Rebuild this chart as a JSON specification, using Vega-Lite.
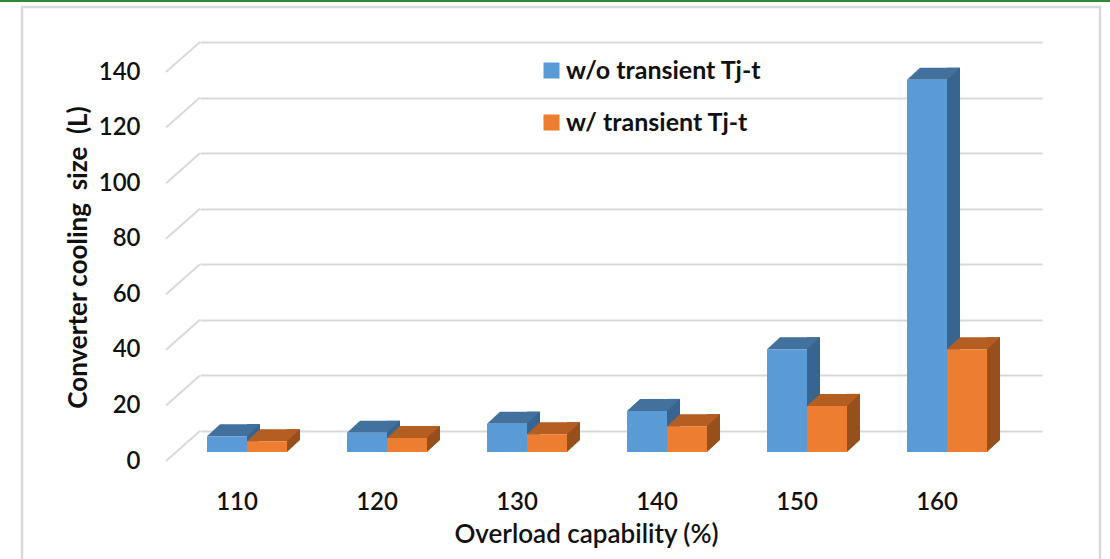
{
  "$schema": "https://vega.github.io/schema/vega-lite/v6.json",
  "width": 842,
  "height": 389,
  "autosize": {"type": "none"},
  "padding": {"left": 200, "top": 42, "right": 68, "bottom": 128},
  "background": "#ffffff",
  "config": {
    "view": {"stroke": null},
    "font": "Lato",
    "axisY": {
      "grid": true, "gridColor": "#d9d9d9", "gridWidth": 2, "domain": false, "ticks": false,
      "labelOffset": 30, "labelPadding": 60, "labelFont": "Lato", "labelFontSize": 24, "labelFontWeight": 600, "labelColor": "#111111",
      "tickCount": 7,
      "titleFont": "Lato", "titleFontSize": 26, "titleFontWeight": "bold", "titleColor": "#111111",
      "titleAngle": -90, "titleBaseline": "middle", "titleX": -122, "titleY": 215
    },
    "axisX": {
      "grid": false, "domain": false, "ticks": false,
      "labelOffset": -10, "labelPadding": 71, "labelBaseline": "middle", "labelAngle": 0,
      "labelFont": "Lato", "labelFontSize": 24, "labelFontWeight": 600, "labelColor": "#111111",
      "titleFont": "Lato", "titleFontSize": 26, "titleFontWeight": 600, "titleColor": "#111111",
      "titleX": 386, "titleY": 103, "titleBaseline": "middle"
    },
    "legend": {
      "orient": "none", "legendX": 339, "legendY": 16, "title": null,
      "symbolType": "square", "symbolSize": 256, "symbolStrokeWidth": 0,
      "labelFont": "Lato", "labelFontSize": 25, "labelFontWeight": "bold", "labelColor": "#111111",
      "labelLimit": 0, "labelOffset": 2, "rowPadding": 26
    }
  },
  "datasets": {
    "sizes": [
      {"cap": "110", "series": "w/o transient Tj-t", "size": 5.7},
      {"cap": "120", "series": "w/o transient Tj-t", "size": 6.9},
      {"cap": "130", "series": "w/o transient Tj-t", "size": 10.2},
      {"cap": "140", "series": "w/o transient Tj-t", "size": 14.8},
      {"cap": "150", "series": "w/o transient Tj-t", "size": 37},
      {"cap": "160", "series": "w/o transient Tj-t", "size": 134},
      {"cap": "110", "series": "w/ transient Tj-t", "size": 3.9},
      {"cap": "120", "series": "w/ transient Tj-t", "size": 5.0},
      {"cap": "130", "series": "w/ transient Tj-t", "size": 6.4},
      {"cap": "140", "series": "w/ transient Tj-t", "size": 9.3},
      {"cap": "150", "series": "w/ transient Tj-t", "size": 16.6},
      {"cap": "160", "series": "w/ transient Tj-t", "size": 37}
    ],
    "ticks": [
      {"t": 0}, {"t": 20}, {"t": 40}, {"t": 60}, {"t": 80}, {"t": 100}, {"t": 120}, {"t": 140}
    ]
  },
  "layer": [
    {
      "description": "outer frame of the figure",
      "data": {"values": [{}]},
      "mark": {"type": "rect", "fill": null, "stroke": "#d9d9d9", "strokeWidth": 2.5},
      "encoding": {
        "x": {"value": -178}, "x2": {"value": 900},
        "y": {"value": -35}, "y2": {"value": 540}
      }
    },
    {
      "description": "green page rule along the top edge",
      "data": {"values": [{}]},
      "mark": {"type": "rule", "color": "#2f8a36", "strokeWidth": 2},
      "encoding": {
        "x": {"value": -200}, "x2": {"value": 910},
        "y": {"value": -41}
      }
    },
    {
      "description": "floor-to-wall diagonals of the gridlines",
      "data": {"name": "ticks"},
      "mark": {"type": "rule", "color": "#d9d9d9", "strokeWidth": 2, "yOffset": 30},
      "encoding": {
        "x": {"value": -34}, "x2": {"value": 0},
        "y": {"field": "t", "type": "quantitative", "title": "Converter cooling\u00a0 size\u00a0 (L)", "scale": {"domain": [0, 140]}},
        "y2": {"field": "t"}
      }
    },
    {
      "description": "blue: side face",
      "data": {"name": "sizes"},
      "transform": [{"filter": "datum.series === 'w/o transient Tj-t'"}],
      "mark": {"type": "bar", "color": "#386490", "width": 13, "xOffset": 6.5, "yOffset": 9, "y2Offset": 9},
      "encoding": {
        "x": {"field": "cap", "type": "nominal", "title": "Overload capability (%)", "scale": {"paddingInner": 0.4286, "paddingOuter": 0.2214, "align": 0.113}},
        "y": {"field": "size", "type": "quantitative", "title": "Converter cooling\u00a0 size\u00a0 (L)"}
      }
    },
    {
      "description": "blue: lower corner of side face",
      "data": {"name": "sizes"},
      "transform": [{"filter": "datum.series === 'w/o transient Tj-t'"}],
      "mark": {"type": "point", "shape": "M0,0L0,-12L13,-12Z", "size": 4, "filled": true, "opacity": 1, "strokeWidth": 0, "color": "#386490", "xOffset": 0, "yOffset": 21},
      "encoding": {
        "x": {"field": "cap", "type": "nominal", "title": "Overload capability (%)"},
        "y": {"datum": 0, "title": "Converter cooling\u00a0 size\u00a0 (L)"}
      }
    },
    {
      "description": "blue: top face",
      "data": {"name": "sizes"},
      "transform": [{"filter": "datum.series === 'w/o transient Tj-t'"}],
      "mark": {"type": "point", "shape": "M0,0L40,0L53,-12L13,-12Z", "size": 4, "filled": true, "opacity": 1, "strokeWidth": 0, "color": "#41719c", "xOffset": -40, "yOffset": 21},
      "encoding": {
        "x": {"field": "cap", "type": "nominal", "title": "Overload capability (%)"},
        "y": {"field": "size", "type": "quantitative", "title": "Converter cooling\u00a0 size\u00a0 (L)"}
      }
    },
    {
      "description": "blue: front face",
      "data": {"name": "sizes"},
      "transform": [{"filter": "datum.series === 'w/o transient Tj-t'"}],
      "mark": {"type": "bar", "width": {"band": 0.5}, "xOffset": -20, "yOffset": 21, "y2Offset": 21},
      "encoding": {
        "x": {"field": "cap", "type": "nominal", "title": "Overload capability (%)"},
        "y": {"field": "size", "type": "quantitative", "title": "Converter cooling\u00a0 size\u00a0 (L)"},
        "color": {"field": "series", "type": "nominal", "scale": {"domain": ["w/o transient Tj-t", "w/ transient Tj-t"], "range": ["#5b9bd5", "#ed7d31"]}}
      }
    },
    {
      "description": "orange: side face",
      "data": {"name": "sizes"},
      "transform": [{"filter": "datum.series === 'w/ transient Tj-t'"}],
      "mark": {"type": "bar", "color": "#97501c", "width": 13, "xOffset": 46.5, "yOffset": 9, "y2Offset": 9},
      "encoding": {
        "x": {"field": "cap", "type": "nominal", "title": "Overload capability (%)"},
        "y": {"field": "size", "type": "quantitative", "title": "Converter cooling\u00a0 size\u00a0 (L)"}
      }
    },
    {
      "description": "orange: lower corner of side face",
      "data": {"name": "sizes"},
      "transform": [{"filter": "datum.series === 'w/ transient Tj-t'"}],
      "mark": {"type": "point", "shape": "M0,0L0,-12L13,-12Z", "size": 4, "filled": true, "opacity": 1, "strokeWidth": 0, "color": "#97501c", "xOffset": 40, "yOffset": 21},
      "encoding": {
        "x": {"field": "cap", "type": "nominal", "title": "Overload capability (%)"},
        "y": {"datum": 0, "title": "Converter cooling\u00a0 size\u00a0 (L)"}
      }
    },
    {
      "description": "orange: top face",
      "data": {"name": "sizes"},
      "transform": [{"filter": "datum.series === 'w/ transient Tj-t'"}],
      "mark": {"type": "point", "shape": "M0,0L40,0L53,-12L13,-12Z", "size": 4, "filled": true, "opacity": 1, "strokeWidth": 0, "color": "#b55e22", "xOffset": 0, "yOffset": 21},
      "encoding": {
        "x": {"field": "cap", "type": "nominal", "title": "Overload capability (%)"},
        "y": {"field": "size", "type": "quantitative", "title": "Converter cooling\u00a0 size\u00a0 (L)"}
      }
    },
    {
      "description": "orange: front face",
      "data": {"name": "sizes"},
      "transform": [{"filter": "datum.series === 'w/ transient Tj-t'"}],
      "mark": {"type": "bar", "width": {"band": 0.5}, "xOffset": 20, "yOffset": 21, "y2Offset": 21},
      "encoding": {
        "x": {"field": "cap", "type": "nominal", "title": "Overload capability (%)"},
        "y": {"field": "size", "type": "quantitative", "title": "Converter cooling\u00a0 size\u00a0 (L)"},
        "color": {"field": "series", "type": "nominal"}
      }
    }
  ]
}
